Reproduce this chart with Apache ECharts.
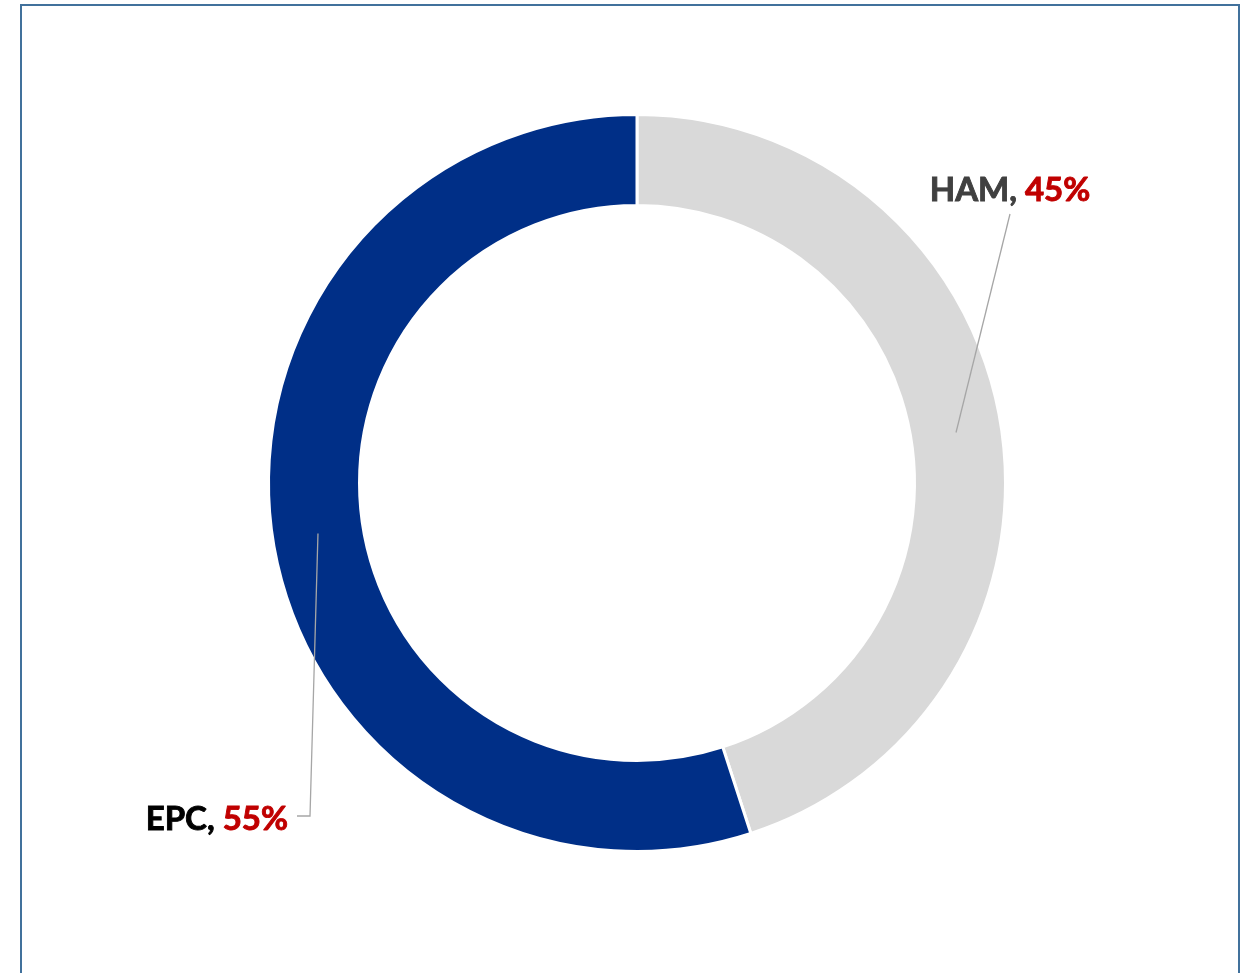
<!DOCTYPE html>
<html>
<head>
<meta charset="utf-8">
<script src="https://cdn.jsdelivr.net/npm/echarts@6/dist/echarts.min.js"></script>
<style>
html,body{margin:0;padding:0;background:#fff;}
#c{width:1241px;height:973px;}
</style>
</head>
<body>
<div id="c"></div>
<script>
const categories = ['HAM', 'EPC'];
const values = [45, 55];
const colors = ['#D9D9D9', '#002F87'];
const nameColors = ['#404040', '#000000'];

const chart = echarts.init(document.getElementById('c'), null, {renderer: 'canvas'});
const cx = 637, cy = 483, rIn = 277.5, rOut = 368.5;
const total = values.reduce((a, b) => a + b, 0);

function midPoint(i) {
  let before = 0;
  for (let k = 0; k < i; k++) before += values[k];
  const a = (before + values[i] / 2) / total * 2 * Math.PI;
  const r = (rIn + rOut) / 2;
  return [cx + r * Math.sin(a), cy - r * Math.cos(a)];
}

const labelSpots = [
  {x: 1010, y: 190, align: 'center', line: (p) => [p, [1010, 214], [1010, 214]]},
  {x: 288, y: 819, align: 'right', line: (p) => [p, [310, 816], [297, 816]]}
];

function font(color) {
  return {color: color, fontSize: 33, fontWeight: 'bold', fontFamily: 'Lato',
          textBorderColor: color, textBorderWidth: 0.9};
}

chart.setOption({
  animation: false,
  graphic: [{
    type: 'rect',
    shape: {x: 21, y: 5, width: 1218, height: 1000},
    style: {fill: 'none', stroke: '#41719C', lineWidth: 2},
    silent: true
  }],
  series: [{
    type: 'pie',
    z: 2,
    center: [cx, cy],
    radius: [rIn, rOut],
    startAngle: 90,
    clockwise: true,
    data: categories.map((c, i) => ({name: c, value: values[i], itemStyle: {color: colors[i]}})),
    itemStyle: {borderColor: '#ffffff', borderWidth: 3},
    label: {show: false},
    labelLine: {show: false}
  }, {
    type: 'pie',
    z: 5,
    silent: true,
    center: [cx, cy],
    radius: [rIn, rOut],
    startAngle: 90,
    clockwise: true,
    data: categories.map((c, i) => ({
      name: c,
      value: values[i],
      label: {
        rich: {
          n: font(nameColors[i]),
          p: font('#C00000')
        }
      }
    })),
    itemStyle: {color: 'rgba(0,0,0,0)', borderWidth: 0},
    label: {
      show: true,
      formatter: (p) => '{n|' + p.name + ', }{p|' + p.value + '%}'
    },
    labelLine: {show: true, lineStyle: {color: '#A6A6A6', width: 1.3}},
    labelLayout: (params) => {
      const s = labelSpots[params.dataIndex];
      return {
        x: s.x, y: s.y, align: s.align, verticalAlign: 'middle',
        labelLinePoints: s.line(midPoint(params.dataIndex))
      };
    }
  }]
});
</script>
</body>
</html>
